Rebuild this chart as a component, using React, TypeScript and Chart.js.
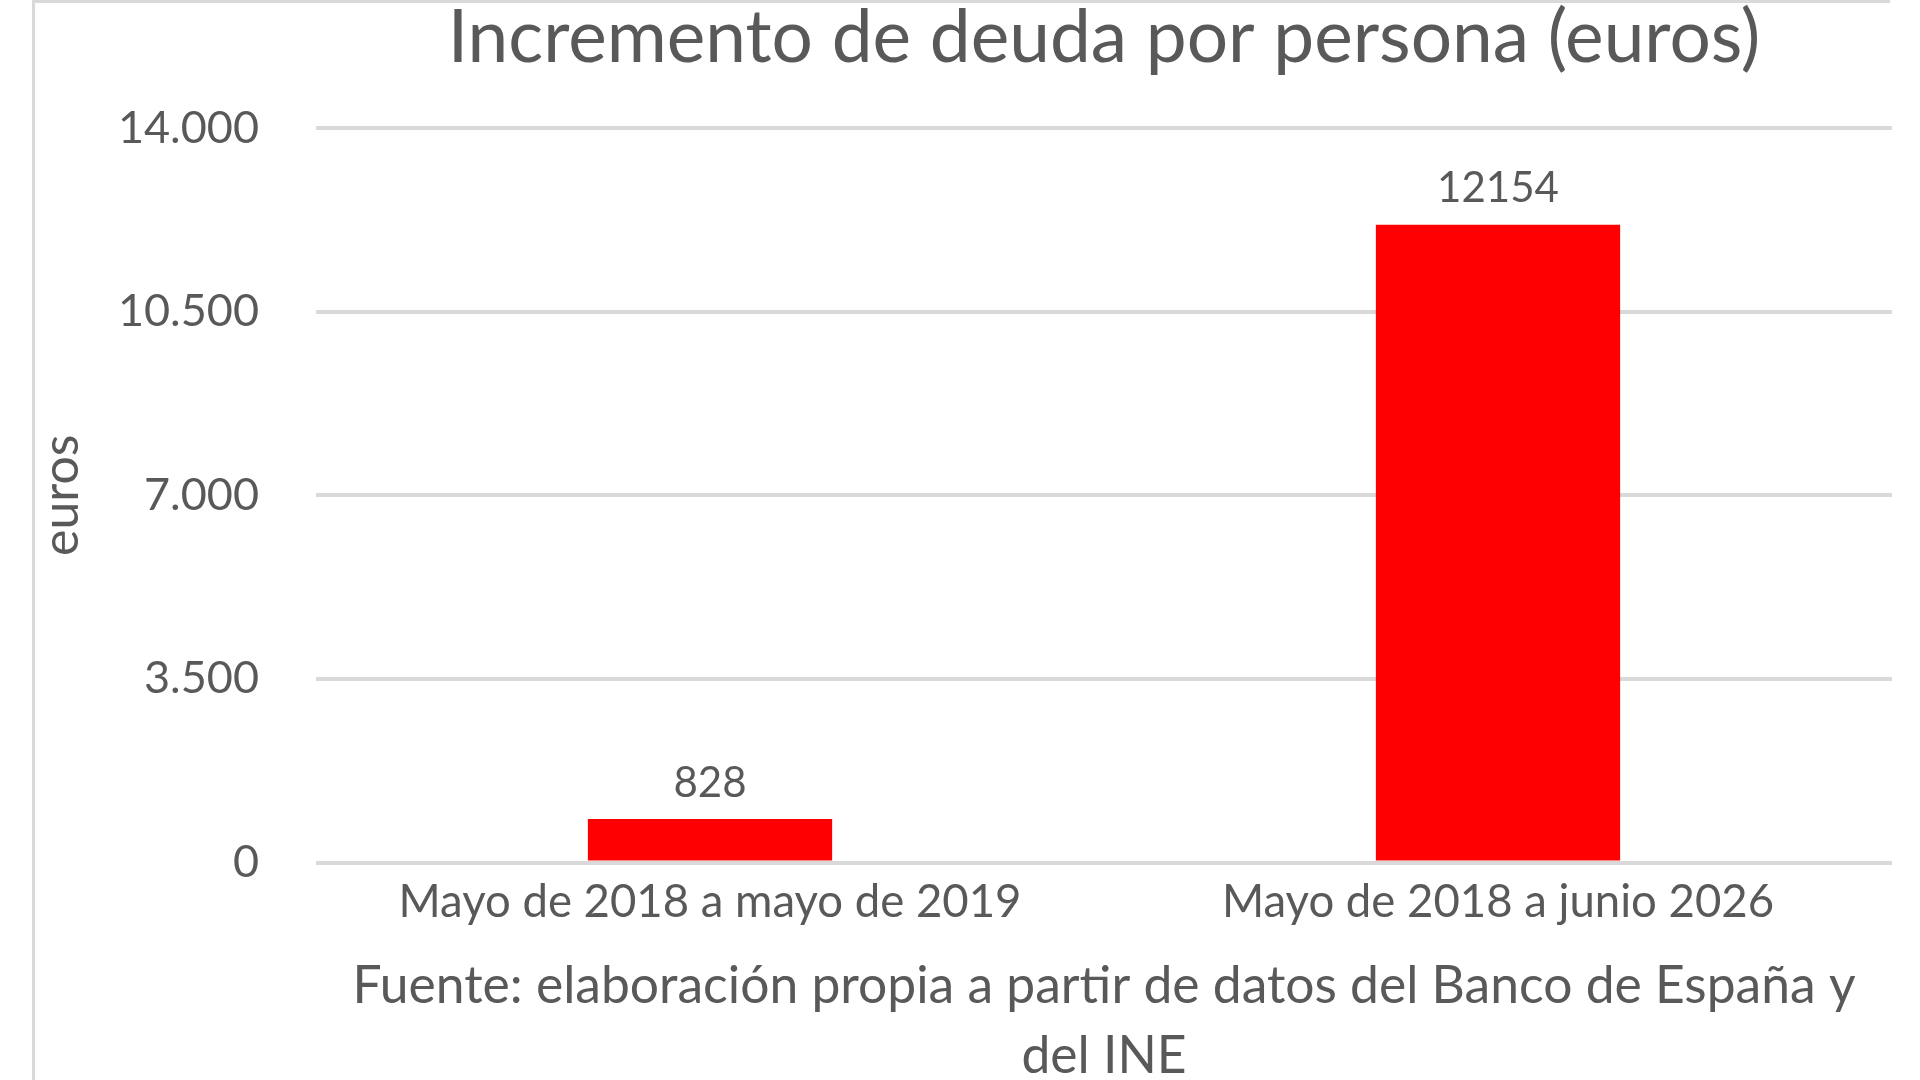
import React, { useEffect, useRef } from "react";
import { Chart, registerables } from "chart.js";

Chart.register(...registerables);

const categories = ["Mayo de 2018 a mayo de 2019", "Mayo de 2018 a junio 2026"];
const values = [828, 12154];
const yTicks = [0, 3500, 7000, 10500, 14000];
const titleText = "Incremento de deuda por persona (euros)";
const yAxisTitle = "euros";
const xAxisTitle = [
  "Fuente: elaboración propia a partir de datos del Banco de España y",
  "del INE",
];

const TEXT = "#595959";
const GRID = "#d9d9d9";
const BAR = "#ff0000";
const FONT = "Lato";

const fmt = (v: number) =>
  String(Math.round(v)).replace(/\B(?=(\d{3})+(?!\d))/g, ".");

const valueLabels = {
  id: "valueLabels",
  afterDatasetsDraw(chart: any) {
    const ctx = chart.ctx;
    const meta = chart.getDatasetMeta(0);
    ctx.save();
    ctx.font = `42px ${FONT}`;
    ctx.fillStyle = TEXT;
    ctx.textAlign = "center";
    ctx.textBaseline = "middle";
    meta.data.forEach((el: any, i: number) => {
      ctx.fillText(String(chart.data.datasets[0].data[i]), el.x, el.y - 36);
    });
    ctx.restore();
  },
};

export default function App() {
  const ref = useRef<HTMLCanvasElement | null>(null);

  useEffect(() => {
    if (!ref.current) return;
    const chart = new Chart(ref.current, {
      type: "bar",
      data: {
        labels: categories,
        datasets: [
          {
            data: values,
            backgroundColor: BAR,
            borderWidth: 0,
            barPercentage: 0.31,
            categoryPercentage: 1,
          },
        ],
      },
      plugins: [valueLabels],
      options: {
        animation: false,
        responsive: true,
        maintainAspectRatio: false,
        layout: { padding: { left: 0, right: 28, top: 0, bottom: 0 } },
        plugins: {
          legend: { display: false },
          tooltip: { enabled: false },
          title: {
            display: true,
            text: titleText,
            color: TEXT,
            fullSize: false,
            font: { family: FONT, size: 73, weight: "normal", lineHeight: 1 },
            padding: { top: 2, bottom: 53 },
          },
        },
        scales: {
          x: {
            grid: { display: false, drawTicks: false },
            border: { display: false },
            ticks: {
              color: TEXT,
              padding: 13,
              font: { family: FONT, size: 45.5 },
              maxRotation: 0,
              autoSkip: false,
            },
            title: {
              display: true,
              text: xAxisTitle,
              color: TEXT,
              font: { family: FONT, size: 51.6, lineHeight: 70 / 51.6 },
              padding: { top: 5.6, bottom: -11 },
            },
            afterFit: (s: any) => {
              s.height = 217.5;
            },
          },
          y: {
            min: 0,
            max: 14000,
            grid: { color: GRID, lineWidth: 4, drawTicks: false },
            border: { display: false },
            afterBuildTicks: (s: any) => {
              s.ticks = yTicks.map((v) => ({ value: v }));
            },
            ticks: {
              color: TEXT,
              padding: 57,
              font: { family: FONT, size: 45 },
              callback: (v: any) => fmt(Number(v)),
            },
            title: {
              display: true,
              text: yAxisTitle,
              color: TEXT,
              font: { family: FONT, size: 50, lineHeight: 1.2 },
              padding: { top: 32, bottom: 0 },
            },
            afterFit: (s: any) => {
              s.width = 316;
            },
          },
        },
      },
    });
    return () => chart.destroy();
  }, []);

  return (
    <div
      style={{
        position: "fixed",
        left: 0,
        top: 0,
        width: 1920,
        height: 1080,
        background: "#ffffff",
        overflow: "hidden",
      }}
    >
      <div
        style={{
          position: "absolute",
          left: 32,
          top: 0,
          width: 1858,
          height: 1200,
          borderLeft: `3px solid ${GRID}`,
          borderTop: `3px solid ${GRID}`,
          boxSizing: "border-box",
        }}
      />
      <div style={{ position: "absolute", left: 0, top: 0, width: 1920, height: 1080 }}>
        <canvas ref={ref} />
      </div>
    </div>
  );
}
